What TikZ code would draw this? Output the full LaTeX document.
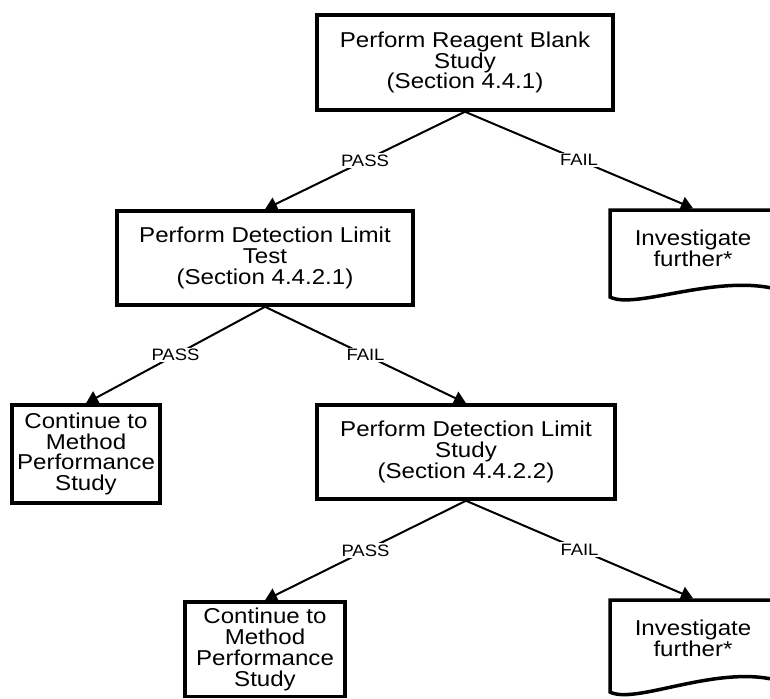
\documentclass[tikz,border=0pt]{standalone}
\usepackage{fontspec}
\setmainfont{Liberation Sans}[FakeStretch=1.12]
\usetikzlibrary{arrows.meta}
\begin{document}
\begin{tikzpicture}[x=1pt,y=-1pt,
  box/.style={draw, line width=3.5pt, rectangle, align=center, inner sep=0pt,
    font=\fontsize{21.5}{20.8}\selectfont},
  doctext/.style={align=center, inner sep=0pt, font=\fontsize{21.5}{20.8}\selectfont},
  docline/.style={line width=3.5pt, line join=miter},
  lbl/.style={fill=white, inner sep=1.5pt, font=\fontsize{16.5}{17}\selectfont},
  conn/.style={line width=2pt, -{Triangle[length=12pt,width=14pt]}},
]
\fill[white] (0,0) rectangle (770,698);
\useasboundingbox (0,0) rectangle (770,698);

\node[box, minimum width=296pt, minimum height=95pt] (b1) at (465,62.5)
  {Perform Reagent Blank\\Study\\(Section 4.4.1)};
\node[box, minimum width=296pt, minimum height=94pt] (b2) at (265,258)
  {Perform Detection Limit\\Test\\(Section 4.4.2.1)};
\node[box, minimum width=148pt, minimum height=98pt] (b3) at (86,454)
  {Continue to\\Method\\Performance\\Study};
\node[box, minimum width=298pt, minimum height=94pt] (b4) at (466,452)
  {Perform Detection Limit\\Study\\(Section 4.4.2.2)};
\node[box, minimum width=160pt, minimum height=94.5pt] (b5) at (265,649.25)
  {Continue to\\Method\\Performance\\Study};

% document shapes
\draw[docline] (780,210) -- (610,210) -- (610,297)
  .. controls (635,310) and (715,274) .. (776,289);
\node[doctext] (d1) at (693,248) {Investigate\\further*};
\coordinate (d1in) at (693,208.25);

\draw[docline] (780,600) -- (610,600) -- (610,692)
  .. controls (635,705) and (715,665) .. (776,680);
\node[doctext] (d2) at (693,638) {Investigate\\further*};
\coordinate (d2in) at (693,598.25);

% connectors
\draw[conn] (b1.south) -- node[lbl] {PASS} (b2.north);
\draw[conn] (b1.south) -- node[lbl] {FAIL} (d1in);
\draw[conn] (b2.south) -- node[lbl] {PASS} (b3.north);
\draw[conn] (b2.south) -- node[lbl] {FAIL} (b4.north);
\draw[conn] (b4.south) -- node[lbl] {PASS} (b5.north);
\draw[conn] (b4.south) -- node[lbl] {FAIL} (d2in);
\end{tikzpicture}
\end{document}
